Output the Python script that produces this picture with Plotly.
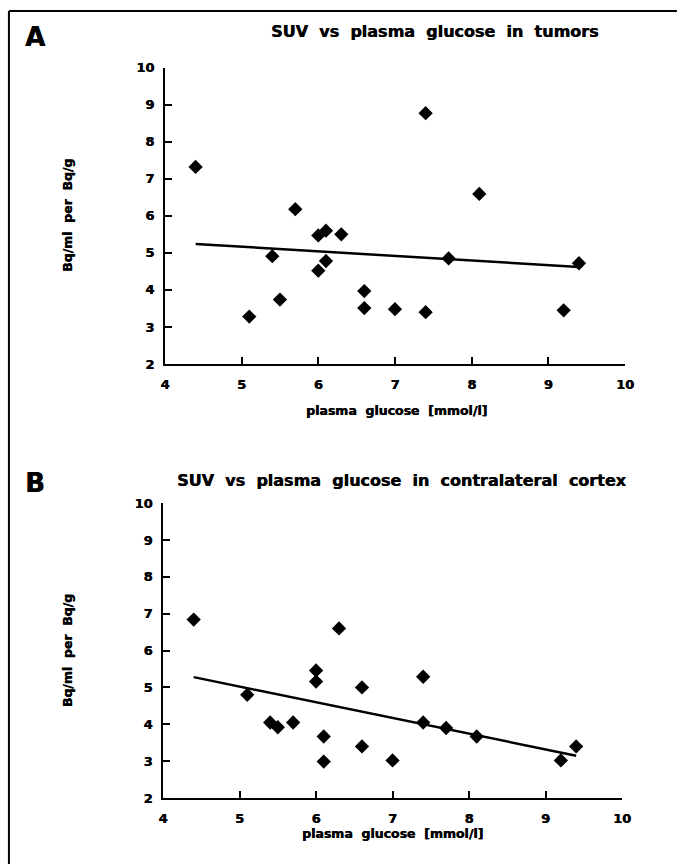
import plotly.graph_objects as go

W, H = 681, 867

# ---- data ----
glucose = [4.4, 5.1, 5.4, 5.5, 5.7, 6.0, 6.1, 6.0, 6.1, 6.3, 6.6, 6.6, 7.0, 7.4, 7.4, 7.7, 8.1, 9.2, 9.4]
suv_tumor = [7.32, 3.28, 4.91, 3.74, 6.18, 5.47, 5.60, 4.52, 4.78, 5.50, 3.97, 3.51, 3.48, 8.77, 3.40, 4.85, 6.59, 3.45, 4.72]
glucose_b = [4.4, 5.1, 5.4, 5.5, 5.7, 6.0, 6.0, 6.1, 6.1, 6.3, 6.6, 6.6, 7.0, 7.4, 7.4, 7.7, 8.1, 9.2, 9.4]
suv_cortex = [6.84, 4.80, 4.05, 3.92, 4.05, 5.46, 5.16, 3.67, 2.99, 6.60, 5.00, 3.40, 3.02, 5.29, 4.05, 3.90, 3.67, 3.02, 3.40]
fit_x = [4.4, 9.4]
fit_tumor = [5.24, 4.62]
fit_cortex = [5.28, 3.15]
x_ticks = [4, 5, 6, 7, 8, 9, 10]
y_ticks = [2, 3, 4, 5, 6, 7, 8, 9, 10]

FONT = "DejaVu Sans"
SP = "\u00a0\u00a0"
SHADOW = "0.5px 0px 0px black"

def px_x(p):
    return p / W

def px_y(p):
    return 1 - p / H

fig = go.Figure()

# panel A
fig.add_trace(go.Scatter(x=fit_x, y=fit_tumor, mode="lines", line=dict(color="black", width=2.5),
                         xaxis="x", yaxis="y", showlegend=False))
fig.add_trace(go.Scatter(x=glucose, y=suv_tumor, mode="markers",
                         marker=dict(symbol="diamond", size=11, color="black", line=dict(width=0)),
                         xaxis="x", yaxis="y", showlegend=False))
# panel B
fig.add_trace(go.Scatter(x=fit_x, y=fit_cortex, mode="lines", line=dict(color="black", width=2.5),
                         xaxis="x2", yaxis="y2", showlegend=False))
fig.add_trace(go.Scatter(x=glucose_b, y=suv_cortex, mode="markers",
                         marker=dict(symbol="diamond", size=11, color="black", line=dict(width=0)),
                         xaxis="x2", yaxis="y2", showlegend=False))

tickfont = dict(family=FONT, size=13, color="black", weight="bold", shadow=SHADOW)

def xaxis(domain, anchor):
    return dict(domain=domain, anchor=anchor, range=[4, 10], tickvals=x_ticks,
                ticks="inside", ticklen=7, tickwidth=2, tickcolor="black",
                showline=True, linewidth=2, linecolor="black", showgrid=False, zeroline=False,
                tickfont=tickfont, ticklabelstandoff=7, fixedrange=True)

def yaxis(domain, anchor):
    return dict(domain=domain, anchor=anchor, range=[2, 10], tickvals=y_ticks,
                ticks="inside", ticklen=7, tickwidth=2, tickcolor="black",
                showline=True, linewidth=2, linecolor="black", showgrid=False, zeroline=False,
                tickfont=tickfont, ticklabelstandoff=6, fixedrange=True)

# pixel geometry
A_x0, A_x1, A_y0, A_y1 = 163.3, 633.0, 61.7, 363.3
B_x0, B_x1, B_y0, B_y1 = 161.4, 630.0, 504.8, 805.0

fig.update_layout(
    width=W, height=H, margin=dict(l=0, r=0, t=0, b=0),
    paper_bgcolor="white", plot_bgcolor="white",
    xaxis=xaxis([px_x(A_x0), px_x(A_x1)], "y"),
    yaxis=yaxis([px_y(A_y1), px_y(A_y0)], "x"),
    xaxis2=xaxis([px_x(B_x0), px_x(B_x1)], "y2"),
    yaxis2=yaxis([px_y(B_y1), px_y(B_y0)], "x2"),
)

anns = []
def ann(text, x, y, size, angle=0):
    anns.append(dict(text=text, x=px_x(x), y=px_y(y), xref="paper", yref="paper",
                     showarrow=False, textangle=angle, xanchor="center", yanchor="middle",
                     font=dict(family=FONT, size=size, color="black", weight="bold", shadow=SHADOW)))

ann("A", 31, 31, 26)
ann(SP.join("SUV vs plasma glucose in tumors".split(" ")), 439, 25, 16)
ann(SP.join("Bq/ml per Bq/g".split(" ")), 64, 212, 12.5, -90)
ann(SP.join("plasma glucose [mmol/l]".split(" ")), 400, 411, 12.5)

ann("B", 31, 484, 26)
ann(SP.join("SUV vs plasma glucose in contralateral cortex".split(" ")), 405, 482, 16)
ann(SP.join("Bq/ml per Bq/g".split(" ")), 64, 655, 12.5, -90)
ann(SP.join("plasma glucose [mmol/l]".split(" ")), 396, 841, 12.5)

fig.update_layout(annotations=anns)

# outer frame (left and top edges visible)
fig.add_shape(type="line", xref="paper", yref="paper", x0=px_x(4), x1=px_x(4), y0=px_y(4), y1=px_y(H + 5),
              line=dict(color="black", width=2))
fig.add_shape(type="line", xref="paper", yref="paper", x0=px_x(4), x1=px_x(W + 5), y0=px_y(4), y1=px_y(4),
              line=dict(color="black", width=2))

fig.write_html("out.html", config={"displayModeBar": False},
               post_script="document.body.style.margin='0';document.body.style.overflow='hidden';")
